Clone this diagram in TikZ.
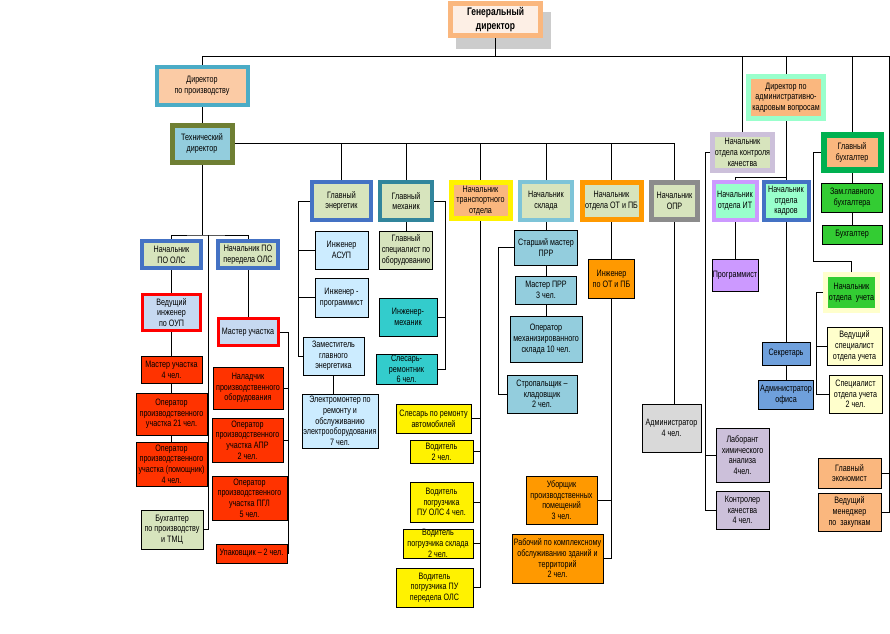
\documentclass[tikz,border=0pt]{standalone}
\usepackage{fontspec}
\setmainfont[FakeStretch=0.77]{Liberation Sans}
\definecolor{cPeach}{HTML}{FAB77E}
\definecolor{cPeachL}{HTML}{FBCBA5}
\definecolor{cCream}{HTML}{FDEFE5}
\definecolor{cShadow}{HTML}{CCCCCC}
\definecolor{cTeal}{HTML}{4BACC6}
\definecolor{cOlive}{HTML}{6F7F33}
\definecolor{cSky}{HTML}{93CDDD}
\definecolor{cOlv}{HTML}{D7E4BD}
\definecolor{cBlue}{HTML}{4472C4}
\definecolor{cIce}{HTML}{C6D9F1}
\definecolor{cFire}{HTML}{FF3300}
\definecolor{cIceL}{HTML}{CCECFF}
\definecolor{cTurq}{HTML}{33CCCC}
\definecolor{cMechB}{HTML}{31859C}
\definecolor{cSkyB}{HTML}{7EC4D8}
\definecolor{cOrg}{HTML}{FF9900}
\definecolor{cGray}{HTML}{8C8C8C}
\definecolor{cGrayL}{HTML}{D9D9D9}
\definecolor{cLilac}{HTML}{CCC0DA}
\definecolor{cViolet}{HTML}{CC99FF}
\definecolor{cMint}{HTML}{99FFCC}
\definecolor{cSec}{HTML}{6FA0DC}
\definecolor{cGreen}{HTML}{00B050}
\definecolor{cLime}{HTML}{33CC33}
\definecolor{cPale}{HTML}{FFFFCC}
\begin{document}
\begin{tikzpicture}[x=1pt, y=-1pt, line width=0.9pt,
	box/.style={rectangle, draw, line width=1pt, align=center, inner sep=0pt,
		font=\fontsize{9.3}{10.7}\selectfont},
	sz/.style 2 args={minimum width=#1pt, minimum height=#2pt},
	chief/.style={draw=#1, line width=4pt}]
	\useasboundingbox (0,0) rectangle (890,633);
	% Top level
	\fill [cShadow] (456,12) rectangle (551,49);
	\node [box, chief=cPeach, line width=5pt, fill=cCream, sz={90}{32},
		font=\bfseries\fontsize{11}{14}\selectfont] (gen) at (495.5,19.5) {Генеральный\\директор};
	\node [box, chief=cTeal, fill=cPeachL, sz={91}{38}] (dirprod) at (202,86) {Директор\\по производству};
	\node [box, chief=cOlive, line width=5pt, fill=cSky, sz={60}{37}] (tech) at (202,143.5) {Технический\\директор};
	% Production
	\node [box, chief=cBlue, fill=cOlv, sz={59}{27}] (poOLS) at (171.5,254.5) {Начальник\\ПО ОЛС};
	\node [box, chief=cBlue, fill=cOlv, sz={60}{27}] (poPer) at (248,254.5) {Начальник ПО\\передела ОЛС};
	\node [box, chief=red, line width=3pt, fill=cIce, sz={58}{36}] (vedIng) at (171.5,312.5) {Ведущий\\инженер\\по ОУП};
	\node [box, chief=red, line width=3pt, fill=cIce, sz={60}{27}] (masterR) at (248,332) {Мастер участка};
	\node [box, fill=cFire, sz={61}{27}] (master4) at (171.5,369.5) {Мастер участка\\4 чел.};
	\node [box, fill=cFire, sz={71}{42}] (oper21) at (171.5,414) {Оператор\\производственного\\участка 21 чел.};
	\node [box, fill=cFire, sz={71}{44}] (operPom) at (171.5,464) {Оператор\\производственного\\участка (помощник)\\4 чел.};
	\node [box, fill=cOlv, sz={62}{39}] (buhProd) at (172,529.5) {Бухгалтер\\по производству\\и ТМЦ};
	\node [box, fill=cFire, sz={70}{42}] (nal) at (248,388) {Наладчик\\производственного\\оборудования};
	\node [box, fill=cFire, sz={71}{44}] (apr) at (247.5,440) {Оператор\\производственного\\участка АПР\\2 чел.};
	\node [box, fill=cFire, sz={75}{44}] (pgl) at (249.5,498) {Оператор\\производственного\\участка ПГЛ\\5 чел.};
	\node [box, fill=cFire, sz={71}{19}] (upak) at (251.5,553.5) {Упаковщик – 2 чел.};
	% Energy and mechanics
	\node [box, chief=cBlue, fill=cOlv, sz={59}{38}] (energ) at (341.5,201) {Главный\\энергетик};
	\node [box, chief=cMechB, fill=cOlv, sz={52}{38}] (mech) at (406,201) {Главный\\механик};
	\node [box, fill=cIceL, sz={53}{38}] (asup) at (341.5,250) {Инженер\\АСУП};
	\node [box, fill=cIceL, sz={53}{39}] (progr) at (341.5,297.5) {Инженер -\\программист};
	\node [box, fill=cIceL, sz={61}{38}] (zamEn) at (333.5,356) {Заместитель\\главного\\энергетика};
	\node [box, fill=cIceL, sz={76}{54}] (electro) at (340,421) {Электромонтер по\\ремонту и\\обслуживанию\\электрооборудования\\7 чел.};
	\node [box, fill=cOlv, sz={53}{38}] (glSpec) at (406,250) {Главный\\специалист по\\оборудованию};
	\node [box, fill=cTurq, sz={58}{38}] (ingMech) at (408,317) {Инженер-\\механик};
	\node [box, fill=cTurq, sz={61}{30}] (slesar) at (406.5,369) {Слесарь-\\ремонтник\\6 чел.};
	% Transport
	\node [box, chief=yellow, line width=5pt, fill=cPeach, sz={59}{36}] (trans) at (480.5,200.5) {Начальник\\транспортного\\отдела};
	\node [box, fill=yellow, sz={75}{29}] (slesAvto) at (433.5,418.5) {Слесарь по ремонту\\автомобилей};
	\node [box, fill=yellow, sz={63}{23}] (vod2) at (441.5,451.5) {Водитель\\2 чел.};
	\node [box, fill=yellow, sz={63}{40}] (vodOLS) at (441.5,502) {Водитель\\погрузчика\\ПУ ОЛС 4 чел.};
	\node [box, fill=yellow, sz={70}{29}] (vodSklad) at (438,543.5) {Водитель\\погрузчика склада\\2 чел.};
	\node [box, fill=yellow, sz={77}{39}] (vodPer) at (434.5,587.5) {Водитель\\погрузчика ПУ\\передела ОЛС};
	% Warehouse
	\node [box, chief=cSkyB, fill=cOlv, sz={52}{38}] (sklad) at (546,201) {Начальник\\склада};
	\node [box, fill=cSky, sz={63}{35}] (stMaster) at (546,247.5) {Старший мастер\\ПРР};
	\node [box, fill=cSky, sz={61}{28}] (masterPRR) at (546,290) {Мастер ПРР\\3 чел.};
	\node [box, fill=cSky, sz={72}{46}] (operSklad) at (546,339) {Оператор\\механизированного\\склада 10 чел.};
	\node [box, fill=cSky, sz={70}{38}] (strop) at (542,394) {Стропальщик –\\кладовщик\\2 чел.};
	% OT, OPR
	\node [box, chief=cOrg, line width=5pt, fill=cOlv, sz={59}{37}] (otpb) at (611.5,201) {Начальник\\отдела ОТ и ПБ};
	\node [box, fill=cOrg, sz={46}{39}] (ingOT) at (611.5,278.5) {Инженер\\по ОТ и ПБ};
	\node [box, fill=cOrg, sz={71}{48}] (ub) at (561.5,500) {Уборщик\\производственных\\помещений\\3 чел.};
	\node [box, fill=cOrg, sz={91}{49}] (rab) at (557.5,558.5) {Рабочий по комплексному\\обслуживанию зданий и\\территорий\\2 чел.};
	\node [box, chief=cGray, line width=5pt, fill=cOlv, sz={46}{37}] (opr) at (674.5,201) {Начальник\\ОПР};
	\node [box, fill=cGrayL, sz={59}{48}] (adm) at (671.5,428) {Администратор\\4 чел.};
	% Quality, admin
	\node [box, chief=cLilac, line width=5pt, fill=cOlv, sz={60}{36}] (kk) at (742.5,152.5) {Начальник\\отдела контроля\\качества};
	\node [box, fill=cLilac, sz={53}{54}] (lab) at (742.5,455) {Лаборант\\химического\\анализа\\4чел.};
	\node [box, fill=cLilac, sz={53}{38}] (kontr) at (742.5,510) {Контролер\\качества\\4 чел.};
	\node [box, chief=cMint, line width=5pt, fill=cPeach, sz={75}{42}] (dirAdm) at (786,97.5) {Директор по\\административно-\\кадровым вопросам};
	\node [box, chief=cViolet, fill=cMint, sz={43}{38}] (it) at (735,201) {Начальник\\отдела ИТ};
	\node [box, chief=cBlue, fill=cMint, sz={45}{38}] (kadry) at (786,201) {Начальник\\отдела\\кадров};
	\node [box, fill=cViolet, sz={46}{32}] (progIT) at (735,275) {Программист};
	\node [box, fill=cSec, sz={48}{23}] (sekr) at (786,353.5) {Секретарь};
	\node [box, fill=cSec, sz={55}{29}] (admOf) at (786,394.5) {Администратор\\офиса};
	% Accounting
	\node [box, chief=cGreen, line width=6pt, fill=cPeach, sz={57}{35}] (glBuh) at (852,152.5) {Главный\\бухгалтер};
	\node [box, fill=cLime, sz={61}{29}] (zamBuh) at (852,197.5) {Зам.главного\\бухгалтера};
	\node [box, fill=cLime, sz={60}{19}] (buh) at (852,234.5) {Бухгалтер};
	\node [box, chief=cPale, line width=5pt, fill=cLime, sz={52}{36}] (nachUch) at (851.5,292.5) {Начальник\\отдела~~учета};
	\node [box, fill=cPale, sz={55}{38}] (vedSpec) at (854.5,346) {Ведущий\\специалист\\отдела учета};
	\node [box, fill=cPale, sz={53}{38}] (spec) at (855.5,394) {Специалист\\отдела учета\\2 чел.};
	\node [box, fill=cPeach, sz={63}{30}] (econ) at (849.5,473) {Главный\\экономист};
	\node [box, fill=cPeach, sz={63}{38}] (men) at (849.5,512) {Ведущий\\менеджер\\по~~закупкам};

	% Connectors
	\coordinate (busL) at (202,56);
	\coordinate (busR) at (889,56);
	\draw (gen.south) -- (gen.south |- busL);
	\draw (busL) -- (busR);
	\draw (busL) -- (dirprod.north);
	\foreach \n in {kk,dirAdm,glBuh}
		\draw (\n.north) -- (\n.north |- busL);
	\draw (busR) |- (men.east);
	\draw (econ.east) -- (econ.east -| busR);
	\draw (dirprod) -- (tech);
	\draw (tech.east) -| (opr.north);
	\foreach \n in {energ,mech,trans,sklad,otpb}
		\draw (\n.north) -- (\n.north |- tech.east);
	% production
	\coordinate (jL) at (202,235);
	\coordinate (jB) at (208,235);
	\draw (tech.south) -- (jL);
	\draw (poOLS.north) |- (jL) -| (poPer.north);
	\draw (jB) |- (buhProd.east);
	\draw (poOLS) -- (vedIng) -- (master4) -- (oper21) -- (operPom);
	\draw (poPer) -- (masterR);
	\draw (masterR.east) -- ++(9,0) coordinate (sR) |- (upak.east);
	\foreach \n in {nal,apr,pgl}
		\draw (\n.east) -- (\n.east -| sR);
	% energy, mechanics
	\draw (energ.west) -- ++(-12,0) coordinate (sE) |- (zamEn.west);
	\foreach \n in {asup,progr}
		\draw (\n.west) -- (\n.west -| sE);
	\draw (zamEn.south) -- (zamEn.south |- electro.north);
	\draw (mech) -- (glSpec);
	\draw (mech.east) -- ++(11,0) coordinate (sM) |- (slesar.east);
	\draw (ingMech.east) -- (ingMech.east -| sM);
	% transport
	\draw (trans.south) |- (vodPer.east);
	\foreach \n in {slesAvto,vod2,vodOLS,vodSklad}
		\draw (\n.east) -- (\n.east -| trans.south);
	% warehouse
	\draw (sklad) -- (stMaster) -- (masterPRR) -- (operSklad);
	\draw (stMaster.west) -- ++(-16,0) coordinate (sS) |- (strop.west);
	% OT, OPR
	\draw (otpb) -- (ingOT);
	\draw (ingOT.south) |- (rab.east);
	\draw (ub.east) -- (ub.east -| ingOT.south);
	\draw (opr.south) -- (opr.south |- adm.north);
	% quality, admin
	\draw (kk.west) -- ++(-5,0) coordinate (sK) |- (kontr.west);
	\draw (lab.west) -- (lab.west -| sK);
	\coordinate (jA) at (786,177);
	\draw (dirAdm) -- (kadry);
	\draw (it.north) |- (jA);
	\draw (it) -- (progIT);
	\draw (kadry) -- (sekr) -- (admOf);
	% accounting
	\coordinate (jU) at (851.5,261);
	\draw (glBuh) -- (zamBuh) -- (buh);
	\draw (glBuh.west) -- ++(-7,0) |- (jU) -- (nachUch.north);
	\draw (nachUch.west) -- ++(-7,0) coordinate (sU) |- (spec.west);
	\draw (vedSpec.west) -- (vedSpec.west -| sU);
\end{tikzpicture}
\end{document}
